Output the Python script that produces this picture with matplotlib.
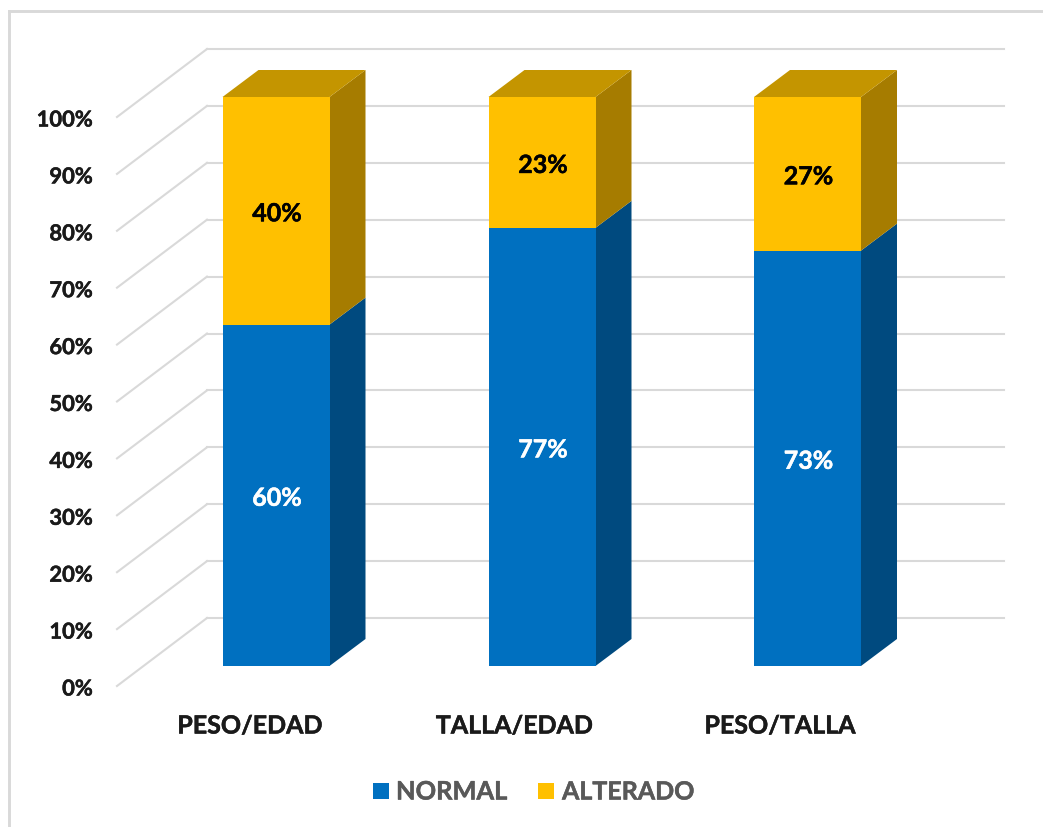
import matplotlib
matplotlib.use("Agg")
import matplotlib.pyplot as plt
import matplotlib.patheffects as pe
from matplotlib.patches import Polygon, Rectangle

categories = ["PESO/EDAD", "TALLA/EDAD", "PESO/TALLA"]
normal = [60, 77, 73]
alterado = [40, 23, 27]
ticks = list(range(0, 101, 10))
series_names = ["NORMAL", "ALTERADO"]

plt.rcParams['font.family'] = ['Lato', 'DejaVu Sans']
W, H = 1043, 827
fig = plt.figure(figsize=(W/100, H/100), dpi=100)
ax = fig.add_axes([0, 0, 1, 1])
ax.set_xlim(0, W)
ax.set_ylim(H, 0)
ax.axis("off")

Y0 = 666.0
PER = (666.0 - 97.0) / 100.0
def fy(v):
    return Y0 - v * PER
DX, DY = 36, 27
BAR_W = 107
centers = [276, 542, 807.5]
label_x = [250, 514.5, 780]

def heavy(color):
    return [pe.withStroke(linewidth=0.35, foreground=color)]

# frame: only the left and top edges are visible in the picture
ax.plot([8.5, 8.5], [827, 10.5], color="#d9d9d9", lw=2.1, solid_capstyle="projecting", zorder=1)
ax.plot([8.5, 1043], [10.5, 10.5], color="#d9d9d9", lw=2.1, solid_capstyle="projecting", zorder=1)

grid = "#d9d9d9"
for t in ticks:
    yf = fy(t) + 20
    ax.plot([117, 207], [yf, yf - 68], color=grid, lw=1.5, zorder=1)
    ax.plot([207, 1004], [yf - 68, yf - 68], color=grid, lw=1.5, zorder=1)
    ax.text(93, yf + 1, f"{t}%", ha="right", va="center_baseline", fontsize=15.8,
            fontweight="bold", color="#1a1a1a", zorder=5, path_effects=heavy("#1a1a1a"))

def bar(cx, v0, v1, front, side, top=None):
    l, r = cx - BAR_W/2, cx + BAR_W/2
    y0, y1 = fy(v0), fy(v1)
    ax.add_patch(Polygon([(r, y0), (r+DX, y0-DY), (r+DX, y1-DY), (r, y1)],
                         closed=True, fc=side, ec="none", zorder=3))
    ax.add_patch(Rectangle((l, y1), BAR_W, y0-y1, fc=front, ec="none", zorder=4))
    if top:
        ax.add_patch(Polygon([(l, y1), (l+DX, y1-DY), (r+DX, y1-DY), (r, y1)],
                             closed=True, fc=top, ec="none", zorder=3))

for cx, lx, n, a, cat in zip(centers, label_x, normal, alterado, categories):
    bar(cx, 0, n, "#0070c0", "#004a7f")
    bar(cx, n, n + a, "#ffc000", "#a67c00", "#c49500")
    ax.text(cx + 1, fy(n/2) + 1, f"{n}%", ha="center", va="center_baseline", fontsize=18,
            fontweight="bold", color="white", zorder=6, path_effects=heavy("white"))
    ax.text(cx + 1, fy(n + a/2) + 1, f"{a}%", ha="center", va="center_baseline", fontsize=18,
            fontweight="bold", color="black", zorder=6, path_effects=heavy("black"))
    ax.text(lx, 724, cat, ha="center", va="center_baseline",
            fontsize=18, fontweight="bold", color="#1a1a1a", zorder=6, path_effects=heavy("#1a1a1a"))

ax.add_patch(Rectangle((373, 783), 16, 16, fc="#0070c0", ec="none"))
ax.text(396, 790, series_names[0], ha="left", va="center_baseline", fontsize=18.3,
        fontweight="bold", color="#595959", path_effects=heavy("#595959"))
ax.add_patch(Rectangle((538, 783), 16, 16, fc="#ffc000", ec="none"))
ax.text(562, 790, series_names[1], ha="left", va="center_baseline", fontsize=18,
        fontweight="bold", color="#595959", path_effects=heavy("#595959"))

fig.savefig("out.png", dpi=100)
